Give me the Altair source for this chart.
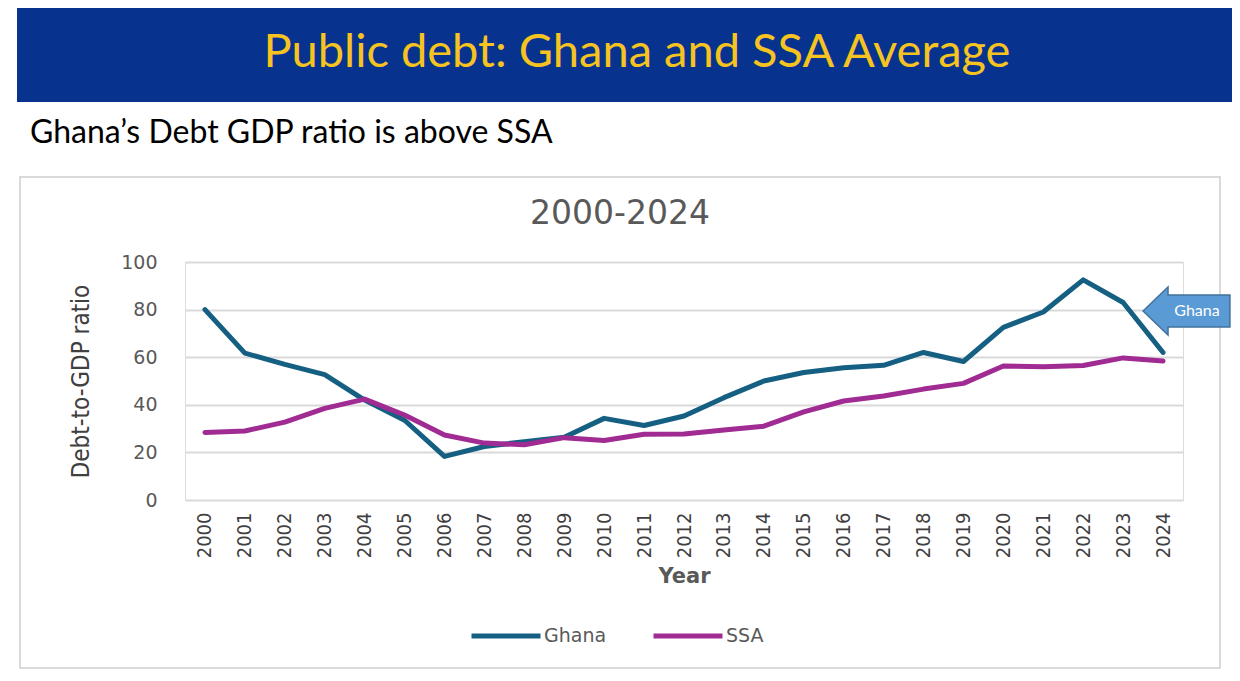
import altair as alt
import pandas as pd

years = ["2000", "2001", "2002", "2003", "2004", "2005", "2006", "2007", "2008",
         "2009", "2010", "2011", "2012", "2013", "2014", "2015", "2016", "2017",
         "2018", "2019", "2020", "2021", "2022", "2023", "2024"]
ghana = [80, 61.7, 57, 52.7, 42, 33.5, 18.3, 22.5, 24.5, 26.4, 34.3, 31.3, 35.3,
         43, 50, 53.6, 55.6, 56.6, 62, 58.2, 72.5, 79, 92.5, 83, 62]
ssa = [28.4, 29, 32.7, 38.5, 42.4, 35.7, 27.3, 23.9, 23.2, 26.2, 25, 27.6, 27.7,
       29.4, 31, 37, 41.6, 43.7, 46.6, 49, 56.3, 56, 56.5, 59.7, 58.4]
series = ["Ghana", "SSA"]
colors = ["#156082", "#A02B93"]

slide_title = "Public debt: Ghana and SSA Average"
slide_subtitle = "Ghana\u2019s Debt GDP ratio is above SSA"
chart_title = "2000-2024"
callout = "Ghana"

rows = []
for s, vals in zip(series, [ghana, ssa]):
    for y, v in zip(years, vals):
        rows.append({"Year": y, "Series": s, "Value": v})
df = pd.DataFrame(rows)

one = pd.DataFrame({"k": [0]})

NARROW = "Liberation Sans Narrow, Arial Narrow, DejaVu Sans Condensed, sans-serif"
WIDE = "DejaVu Sans, Verdana, sans-serif"
SLIDE = "Lato, Carlito, Open Sans, sans-serif"

banner = alt.Chart(one).mark_rect(color="#07338f").encode(
    x=alt.value(-168), x2=alt.value(1047), y=alt.value(-254), y2=alt.value(-160)
)
title_txt = alt.Chart(one).mark_text(
    text=slide_title, font=SLIDE, fontSize=47, color="#f6c320",
    align="center", baseline="alphabetic"
).encode(x=alt.value(452), y=alt.value(-195))
sub_txt = alt.Chart(one).mark_text(
    text=slide_subtitle, font=SLIDE, fontSize=32, color="#000000",
    align="left", baseline="alphabetic"
).encode(x=alt.value(-155), y=alt.value(-119))
box = alt.Chart(one).mark_rect(
    fillOpacity=0, stroke="#d9d9d9", strokeWidth=2
).encode(x=alt.value(-165), x2=alt.value(1035), y=alt.value(-85), y2=alt.value(406))
ctitle = alt.Chart(one).mark_text(
    text=chart_title, font=WIDE, fontSize=33, color="#595959",
    align="center", baseline="alphabetic"
).encode(x=alt.value(435), y=alt.value(-38))

lines = alt.Chart(df).mark_line(strokeWidth=5, strokeCap="round", strokeJoin="round").encode(
    x=alt.X("Year:O", sort=years,
            axis=alt.Axis(title="Year", labelAngle=-90, labelFont=NARROW, labelFontSize=20,
                          labelColor="#404040", labelPadding=12, ticks=False, domain=False,
                          titleFont=WIDE, titleFontSize=21, titleFontWeight="bold",
                          titleColor="#595959", titleY=82, titleBaseline="alphabetic")),
    y=alt.Y("Value:Q", scale=alt.Scale(domain=[0, 100], nice=False),
            axis=alt.Axis(title="Debt-to-GDP ratio", values=[0, 20, 40, 60, 80, 100],
                          labelFont=WIDE, labelFontSize=19, labelColor="#595959",
                          labelPadding=28, ticks=False, domain=False,
                          gridColor="#d9d9d9", gridWidth=2,
                          titleFont=NARROW, titleFontSize=24, titleColor="#404040",
                          titleFontWeight="normal", titleX=-97, titleY=119,
                          titleAngle=-90, titleAlign="center", titleBaseline="alphabetic")),
    color=alt.Color("Series:N", scale=alt.Scale(domain=series, range=colors),
                    legend=alt.Legend(title=None, orient="none", direction="horizontal",
                                      legendX=284, legendY=337, symbolType="stroke",
                                      symbolSize=4761, symbolStrokeWidth=5,
                                      labelFont=WIDE, labelFontSize=19, labelColor="#595959",
                                      labelOffset=1, columnPadding=36)),
)

arrow_path = "M -1.81 0 L -0.77 -1 L -0.77 -0.667 L 1.81 -0.667 L 1.81 0.667 L -0.77 0.667 L -0.77 1 Z"
arrow = alt.Chart(one).mark_point(
    shape=arrow_path, size=2304, filled=True, fill="#5b9bd5", stroke="#41719c",
    strokeWidth=1.5, opacity=1
).encode(x=alt.value(1001.5), y=alt.value(49))
arrow_txt = alt.Chart(one).mark_text(
    text=callout, font=SLIDE, fontSize=16, color="#ffffff", align="center", baseline="middle"
).encode(x=alt.value(1012), y=alt.value(49))

chart = alt.layer(banner, title_txt, sub_txt, box, ctitle, lines, arrow, arrow_txt).properties(
    width=998, height=238,
    padding={"left": 177, "top": 254, "right": 49, "bottom": 173},
    autosize="none",
).configure_view(stroke=None).configure(background="white")

chart.save("out.html", embed_options={"renderer": "svg", "actions": False})
